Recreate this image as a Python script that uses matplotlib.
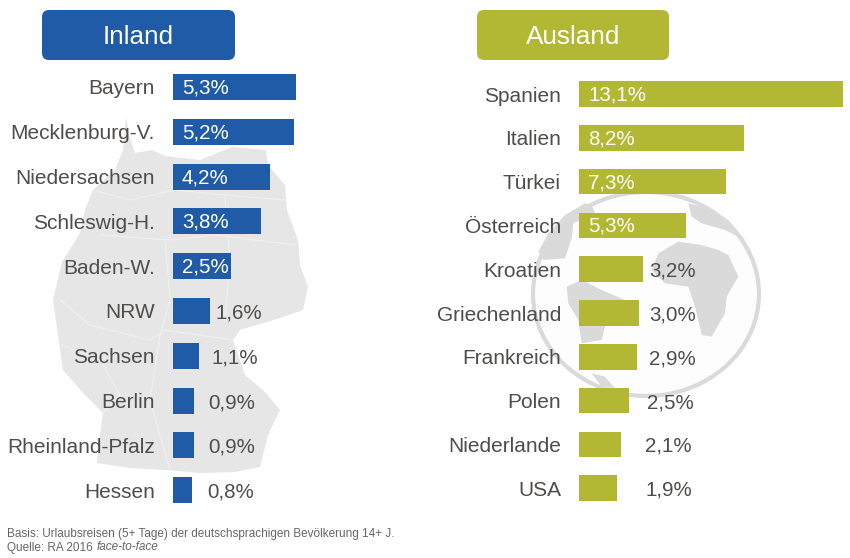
import numpy as np
import matplotlib.pyplot as plt
from matplotlib import patches
plt.rcParams['font.family'] = ['Liberation Sans', 'DejaVu Sans']

inland_names = ["Bayern", "Mecklenburg-V.", "Niedersachsen", "Schleswig-H.", "Baden-W.", "NRW", "Sachsen", "Berlin", "Rheinland-Pfalz", "Hessen"]
inland_values = [5.3, 5.2, 4.2, 3.8, 2.5, 1.6, 1.1, 0.9, 0.9, 0.8]
ausland_names = ["Spanien", "Italien", "Türkei", "Österreich", "Kroatien", "Griechenland", "Frankreich", "Polen", "Niederlande", "USA"]
ausland_values = [13.1, 8.2, 7.3, 5.3, 3.2, 3.0, 2.9, 2.5, 2.1, 1.9]

blue = '#1f5ba6'
green = '#b2b834'
textgrey = '#4f4d4b'
mapgrey = '#e6e6e6'
globegrey = '#dadada'
W = 850
H = 558

def pixaxes(x, y, w, h):
    return fig.add_axes([x / W, 1 - (y + h) / H, w / W, h / H])

def poly(ax, pts, color):
    ax.add_patch(patches.Polygon(pts, closed=True, facecolor=color, edgecolor='none'))

def zoomed(pts):
    return [(425 + a / 3, 180 + b / 3) for a, b in pts]

def bars(ax, names, values, color, inside, offsets, xmax, pad):
    ax.barh(range(10), values, height=0.58, color=color)
    ax.set_xlim(0, xmax)
    ax.set_ylim(9.5, -0.5)
    ax.set_xticks([])
    ax.set_yticks(range(10))
    ax.set_yticklabels(names, fontsize=15, color=textgrey)
    ax.tick_params(axis='y', length=0, pad=pad)
    ax.patch.set_alpha(0)
    for s in ax.spines.values():
        s.set_visible(False)
    for i in range(10):
        label = ("%.1f%%" % values[i]).replace('.', ',')
        if i < inside:
            ax.annotate(label, (0, i), xytext=(9, -1), textcoords='offset pixels', color='white', fontsize=14.8, va='center')
        else:
            ax.annotate(label, (values[i], i), xytext=(offsets[i], -2), textcoords='offset pixels', color=textgrey, fontsize=14.8, va='center')

fig = plt.figure(figsize=(8.5, 5.58), dpi=100)

# background pictures and header boxes, in pixels of the reference
bg = pixaxes(0, 0, W, H)
bg.set_xlim(0, W)
bg.set_ylim(H, 0)
bg.axis('off')

germany = [(126, 117), (129, 135), (135, 153), (152, 150), (165, 156), (200, 160), (232, 147), (266, 150), (268, 165),
           (285, 185), (287, 210), (298, 240), (300, 265), (308, 287), (303, 310), (280, 318), (240, 330), (233, 340),
           (245, 375), (265, 392), (280, 410), (268, 435), (260, 467), (235, 472), (200, 473), (165, 470), (130, 468),
           (97, 463), (100, 435), (103, 413), (85, 395), (63, 370), (58, 335), (53, 300), (62, 262), (80, 233), (85, 210),
           (93, 190), (115, 170), (123, 150)]
poly(bg, germany, mapgrey)
borders = [[(93, 190), (130, 200), (175, 190), (225, 195), (285, 200)], [(100, 235), (170, 240), (215, 235), (295, 245)],
           [(60, 300), (90, 325), (150, 340), (165, 330), (233, 340)], [(165, 240), (170, 300), (160, 335), (150, 400), (170, 470)],
           [(62, 345), (100, 360), (120, 395), (103, 413)], [(225, 195), (230, 260), (225, 320)]]
for b in borders:
    bg.plot([p[0] for p in b], [p[1] for p in b], color='#f1f1f1', linewidth=0.8)

bg.add_patch(patches.Ellipse((646, 294), 226, 204, facecolor='#fdfdfd', edgecolor=globegrey, linewidth=3))
africa = zoomed([(700, 220), (760, 185), (830, 195), (880, 210), (910, 225), (940, 290), (905, 350), (900, 400), (860, 470),
                 (830, 465), (810, 380), (790, 320), (720, 310), (680, 270)])
america = zoomed([(425, 320), (470, 300), (530, 330), (600, 360), (540, 440), (530, 480), (470, 490), (460, 420), (430, 370)])
europe = zoomed([(790, 70), (850, 85), (910, 120), (960, 180), (900, 150), (830, 130), (800, 110)])
north = zoomed([(340, 215), (370, 160), (420, 105), (480, 70), (500, 75), (510, 100), (445, 130), (440, 175),
                (420, 235), (355, 240)])
bottom = zoomed([(500, 580), (540, 590), (570, 625), (530, 620)])
for shape in [africa, america, europe, north, bottom]:
    poly(bg, shape, globegrey)

for x, w, color, title in [(42, 193, blue, "Inland"), (477, 192, green, "Ausland")]:
    bg.add_patch(patches.FancyBboxPatch((x + 7, 17), w - 14, 36, boxstyle="round,pad=7", facecolor=color, edgecolor='none'))
    bg.text(x + w / 2, 36.5, title, color='white', fontsize=18.8, ha='center', va='center')

ax1 = pixaxes(173, 64.6, 139.2, 448)
bars(ax1, inland_names, inland_values, blue, 5, [0, 0, 0, 0, 0, 5, 13, 14, 14, 16], 6, 13)

ax2 = pixaxes(579, 72.1, 271, 438)
bars(ax2, ausland_names, ausland_values, green, 4, [0, 0, 0, 0, 6, 10, 12, 18, 24, 28], 271 / 20.15, 13)

fig.text(7 / W, 1 - 537 / H, "Basis: Urlaubsreisen (5+ Tage) der deutschsprachigen Bevölkerung 14+ J.", fontsize=8.5, color='#666666', va='baseline')
fig.text(7 / W, 1 - 550.5 / H, "Quelle: RA 2016", fontsize=8.5, color='#666666', va='baseline')
fig.text(97 / W, 1 - 550.5 / H, "face-to-face", fontsize=8.5, color='#666666', va='baseline', style='italic')

plt.savefig('out.png', dpi=100)
